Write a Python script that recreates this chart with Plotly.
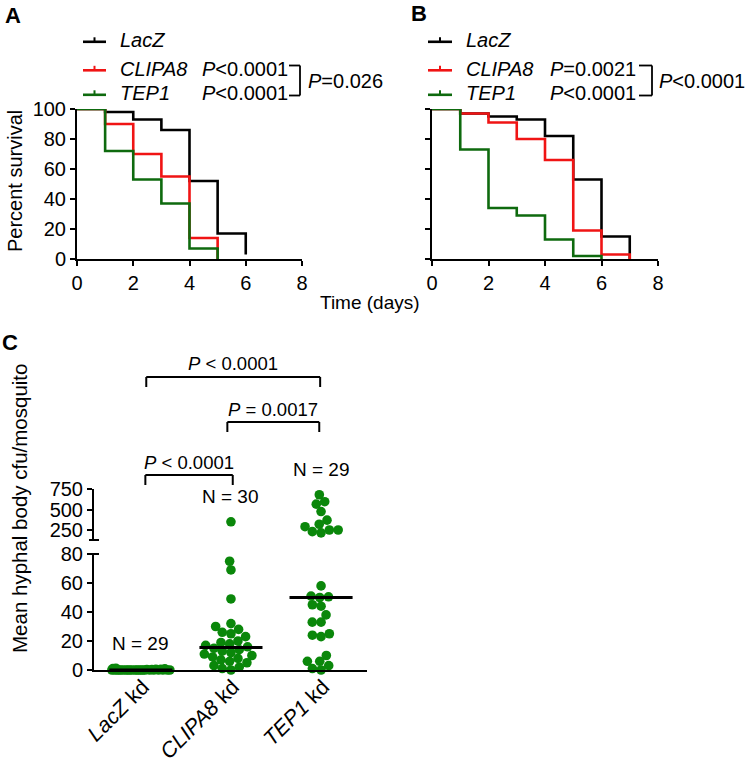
import numpy as np
import plotly.graph_objects as go

W, H = 750, 768
FONT = "Liberation Sans, Arial, Helvetica, sans-serif"

# ---------------- data ----------------
# Panel A: percent survival by day
days_A_lacz = [0, 1, 2, 3, 4, 5, 6]
surv_A_lacz = [100, 98, 93, 86, 52, 17, 3]
days_A_clipa8 = [0, 1, 2, 3, 4, 5]
surv_A_clipa8 = [100, 90, 70, 55, 14, 0]
days_A_tep1 = [0, 1, 2, 3, 4, 5]
surv_A_tep1 = [100, 72, 53, 37, 7, 0]

# Panel B: percent survival by day
days_B_lacz = [0, 1, 2, 3, 4, 5, 6, 7]
surv_B_lacz = [100, 97, 95, 93, 82, 53, 15, 0]
days_B_clipa8 = [0, 1, 2, 3, 4, 5, 6, 7]
surv_B_clipa8 = [100, 97, 91, 80, 66, 19, 3, 0]
days_B_tep1 = [0, 1, 2, 3, 4, 5, 6]
surv_B_tep1 = [100, 73, 34, 29, 13, 2, 0]

series_names = ["LacZ", "CLIPA8", "TEP1"]
pvals_A = ["P<0.0001", "P<0.0001"]
pair_A = "P=0.026"
pvals_B = ["P=0.0021", "P<0.0001"]
pair_B = "P<0.0001"

surv_xticks = [0, 2, 4, 6, 8]
surv_yticks = [0, 20, 40, 60, 80, 100]

# Panel C: mean hyphal body cfu / mosquito
groups_C = ["LacZ", "CLIPA8", "TEP1"]
cfu_lacz = [0, 0, 0, 0, 0, 0, 0, 0, 0, 0, 0, 0, 0, 0, 0, 0, 0, 0, 0, 0, 0, 0,
            0.3, 0.3, 0.5, 0.5, 0.8, 1, 1.2]
cfu_clipa8 = [350, 75, 69, 49, 32, 30, 28, 26, 25, 23, 20, 19, 18, 17, 16, 15,
              14, 13, 12, 11, 10, 9, 8, 7, 6, 5, 3, 2, 1, 0]
cfu_tep1 = [680, 595, 565, 475, 370, 320, 290, 250, 250, 230, 215,
            58, 51, 50.5, 50, 45, 44, 38, 33, 33, 25, 24, 23, 10, 6, 6, 3, 1, 0]
lower_ticks = [0, 20, 40, 60, 80]
upper_ticks = [250, 500, 750]
comparisons = [(0, 2, "P < 0.0001"), (1, 2, "P = 0.0017"), (0, 1, "P < 0.0001")]

# ---------------- layout constants (pixels) ----------------
COL = ["#000000", "#f01414", "#0e6a0e"]
DOT = "#0a870a"
A_X = (77, 302)
B_X = (432, 658)
AB_Y = (109, 259)
C_X = (94, 367)
C_X_RANGE = [-0.52, 2.51]
C_LO_Y = (554, 670)
C_LO_RANGE = [0, 80]
C_HI_Y = (489, 540)
C_HI_RANGE = [128, 750]
BREAK = 100


def xdom(a, b):
    return [a / W, b / W]


def ydom(top, bottom):
    return [1 - bottom / H, 1 - top / H]


def fmtP(s):
    return "<i>P</i>" + s[1:].replace("<", "&lt;")


fig = go.Figure()
fig.update_layout(template="none", width=W, height=H, margin=dict(l=0, r=0, t=0, b=0, pad=0),
                  paper_bgcolor="white", plot_bgcolor="white", showlegend=False,
                  font=dict(family=FONT, size=18, color="black"))

ax = dict(showline=True, linecolor="black", linewidth=2, ticks="outside", ticklen=5,
          tickwidth=2, tickcolor="black", showgrid=False, zeroline=False, automargin=False,
          tickfont=dict(size=20, family=FONT, color="black"))

fig.update_layout(
    xaxis=dict(ax, domain=xdom(*A_X), range=[0, 8], tickvals=surv_xticks, anchor="y"),
    yaxis=dict(ax, domain=ydom(*AB_Y), range=[0, 100], tickvals=surv_yticks, anchor="x"),
    xaxis2=dict(ax, domain=xdom(*B_X), range=[0, 8], tickvals=surv_xticks, anchor="y2"),
    yaxis2=dict(ax, domain=ydom(*AB_Y), range=[0, 100], tickvals=surv_yticks,
                showticklabels=False, anchor="x2"),
    xaxis3=dict(ax, domain=xdom(*C_X), range=C_X_RANGE, tickvals=[0, 1, 2],
                ticktext=[f"<i>{g}</i> kd" for g in groups_C], tickangle=-45,
                ticks="", anchor="y3", ticklabelstandoff=-6, ticklabelshift=2,
                tickfont=dict(size=21.5, family=FONT, color="black")),
    yaxis3=dict(ax, domain=ydom(*C_LO_Y), range=C_LO_RANGE, tickvals=lower_ticks, anchor="x3"),
    yaxis4=dict(ax, domain=ydom(*C_HI_Y), range=C_HI_RANGE, tickvals=upper_ticks, anchor="x3"),
)

# ---------------- survival curves ----------------
curvesA = [(days_A_lacz, surv_A_lacz), (days_A_clipa8, surv_A_clipa8), (days_A_tep1, surv_A_tep1)]
curvesB = [(days_B_lacz, surv_B_lacz), (days_B_clipa8, surv_B_clipa8), (days_B_tep1, surv_B_tep1)]
for (xa, ya), (xb, yb), c in zip(curvesA, curvesB, COL):
    fig.add_trace(go.Scatter(x=xa, y=ya, mode="lines", line=dict(color=c, width=2.6, shape="hv"),
                             cliponaxis=False, hoverinfo="skip", xaxis="x", yaxis="y"))
    fig.add_trace(go.Scatter(x=xb, y=yb, mode="lines", line=dict(color=c, width=2.6, shape="hv"),
                             cliponaxis=False, hoverinfo="skip", xaxis="x2", yaxis="y2"))

# ---------------- helpers ----------------
def ann(text, x, y, size=18, xanchor="center", yanchor="middle", angle=0, xref="paper"):
    fig.add_annotation(text=text, x=(x / W if xref == "paper" else x), y=1 - y / H,
                       xref=xref, yref="paper", showarrow=False, textangle=angle,
                       font=dict(size=size, family=FONT, color="black"),
                       xanchor=xanchor, yanchor=yanchor)


def seg(x0, y0, x1, y1, color="black", w=2, xref="paper"):
    fig.add_shape(type="line", xref=xref, yref="paper",
                  x0=(x0 / W if xref == "paper" else x0), x1=(x1 / W if xref == "paper" else x1),
                  y0=1 - y0 / H, y1=1 - y1 / H, line=dict(color=color, width=w))


# ---------------- legends for A and B ----------------
ROWS = [40, 68.5, 93]
for (sym_x0, sym_x1, txt_x, p_x, br_x0, br_x1, pair_x, pvals, pair) in [
        (83, 106, 118, 200, 289, 300, 306, pvals_A, pair_A),
        (428, 452, 464, 548, 639, 652, 657, pvals_B, pair_B)]:
    for i, (name, c) in enumerate(zip(series_names, COL)):
        ly = ROWS[i] + 1.8
        seg(sym_x0, ly, sym_x1, ly, color=c, w=2.6)
        xm = (sym_x0 + sym_x1) / 2
        seg(xm, ly - 4.5, xm, ly, color=c, w=2)
        ann(f"<i>{name}</i>", txt_x, ROWS[i], size=20, xanchor="left")
    for k, p in enumerate(pvals):
        ann(fmtP(p), p_x, ROWS[k + 1], size=20, xanchor="left")
    yt, yb = ROWS[1] - 3, ROWS[2] + 2.5
    seg(br_x0, yt, br_x1, yt, w=1.8)
    seg(br_x0, yb, br_x1, yb, w=1.8)
    seg(br_x1, yt, br_x1, yb, w=1.8)
    ann(fmtP(pair), pair_x, (yt + yb) / 2, size=20, xanchor="left")

# panel letters and axis titles
ann("<b>A</b>", 13, 15, size=22)
ann("<b>B</b>", 419, 14, size=22)
ann("<b>C</b>", 10, 342, size=22)
ann("Percent survival", 15, 181, size=20, angle=-90)
ann("Time (days)", 370, 302, size=19)
ann("Mean hyphal body cfu/mosquito", 19, 509, size=20.5, angle=-90)

# ---------------- panel C: scatter with broken axis ----------------
lo_scale = (C_LO_Y[1] - C_LO_Y[0]) / (C_LO_RANGE[1] - C_LO_RANGE[0])
hi_scale = (C_HI_Y[1] - C_HI_Y[0]) / (C_HI_RANGE[1] - C_HI_RANGE[0])
px_per_x = (C_X[1] - C_X[0]) / (C_X_RANGE[1] - C_X_RANGE[0])


def ypx(v):
    if v > BREAK:
        return C_HI_Y[1] - (v - C_HI_RANGE[0]) * hi_scale
    return C_LO_Y[1] - (v - C_LO_RANGE[0]) * lo_scale


def swarm(vals, diam=8.8, half=29.0):
    ys = [ypx(v) for v in vals]
    order = np.argsort(vals, kind="stable")
    placed = []
    offs = np.zeros(len(vals))
    grid = np.linspace(-half, half, 59)
    for i in order:
        y = ys[i]
        cands = [0.0]
        for (px, py) in placed:
            dy = abs(py - y)
            if dy < diam:
                dx = np.sqrt(diam ** 2 - dy ** 2)
                cands += [px - dx, px + dx]
        cands = [c for c in cands if abs(c) <= half + 1e-9]
        feas = [c for c in cands
                if all((c - px) ** 2 + (y - py) ** 2 >= diam ** 2 - 1e-6 for px, py in placed)]
        if feas:
            best = min(feas, key=lambda c: (round(abs(c), 6), c))
        else:
            best = max(grid, key=lambda c: min((c - px) ** 2 + (y - py) ** 2 for px, py in placed))
        placed.append((best, y))
        offs[i] = best
    return offs / px_per_x


all_groups = [cfu_lacz, cfu_clipa8, cfu_tep1]
for gi, vals in enumerate(all_groups):
    vals = np.array(vals, dtype=float)
    xs = gi + swarm(list(vals))
    lo = vals <= BREAK
    fig.add_trace(go.Scatter(x=xs[lo], y=vals[lo], mode="markers", xaxis="x3", yaxis="y3",
                             marker=dict(size=9.6, color=DOT, line=dict(width=0)),
                             cliponaxis=False, hoverinfo="skip"))
    if (~lo).any():
        fig.add_trace(go.Scatter(x=xs[~lo], y=vals[~lo], mode="markers", xaxis="x3", yaxis="y4",
                                 marker=dict(size=9.6, color=DOT, line=dict(width=0)),
                                 cliponaxis=False, hoverinfo="skip"))
for gi, vals in enumerate(all_groups):
    med = float(np.median(vals))
    fig.add_trace(go.Scatter(x=[gi - 0.35, gi + 0.35], y=[med, med], mode="lines",
                             xaxis="x3", yaxis="y3", line=dict(color="black", width=3),
                             cliponaxis=False, hoverinfo="skip"))
    ann(f"N = {len(vals)}", gi, ypx(max(vals)) - 25, size=19, xref="x3")

# break marks on the y axis
seg(C_X[0] - 5, C_LO_Y[0], C_X[0] + 5, C_LO_Y[0], w=2)
seg(C_X[0] - 5, C_HI_Y[1], C_X[0] + 5, C_HI_Y[1], w=2)

# comparison brackets
BR_Y = [377, 422, 475]
BR_DX = [(0.06, -0.01), (-0.04, -0.02), (0.05, 0.02)]
for (i, j, label), by, (d0, d1) in zip(comparisons, BR_Y, BR_DX):
    x0, x1 = i + d0, j + d1
    seg(x0, by, x1, by, w=2, xref="x3")
    seg(x0, by, x0, by + 10, w=2, xref="x3")
    seg(x1, by, x1, by + 10, w=2, xref="x3")
    ann(fmtP(label), (x0 + x1) / 2, by - 13, size=18.5, xref="x3")

fig.write_html("out.html", config={"displayModeBar": False},
               post_script="document.body.style.margin='0px';")
